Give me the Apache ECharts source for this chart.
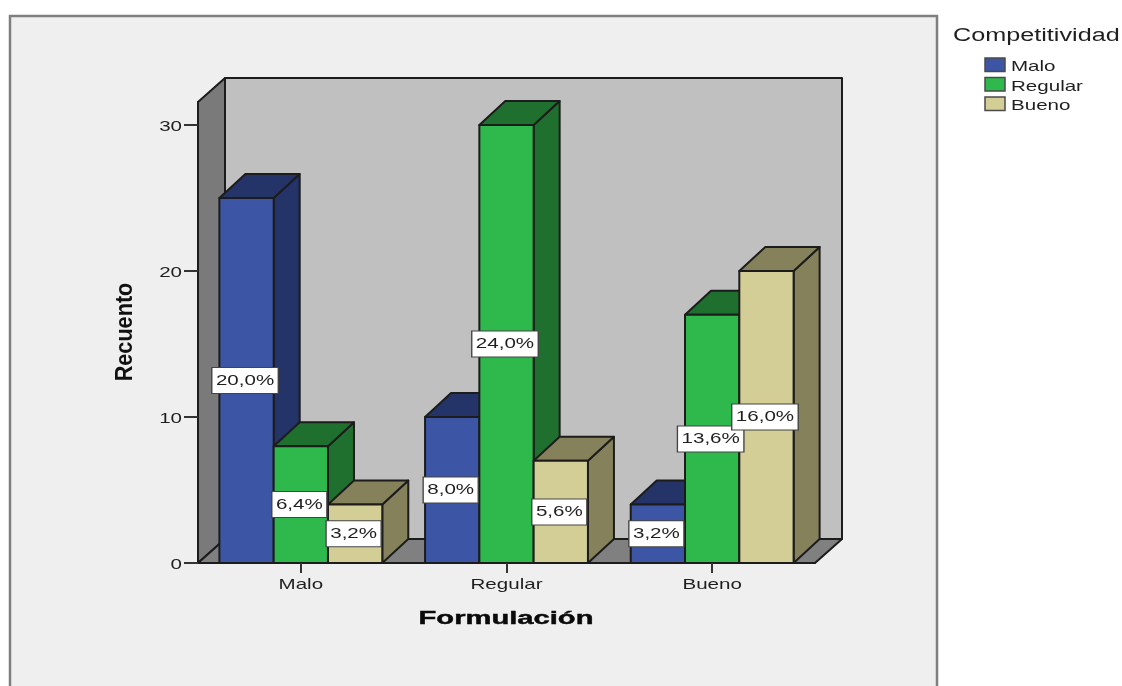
<!DOCTYPE html>
<html>
<head>
<meta charset="utf-8">
<style>html,body{margin:0;padding:0;background:#fff}#chart{width:1122px;height:686px}</style>
<script src="https://cdn.jsdelivr.net/npm/echarts@6/dist/echarts.min.js"></script>
</head>
<body>
<div id="chart"></div>
<script>
// Recuento by Formulación, split by Competitividad
const categories = ['Malo', 'Regular', 'Bueno'];
const levels = ['Malo', 'Regular', 'Bueno'];
const malo = [25, 10, 4];
const regular = [8, 30, 17];
const bueno = [4, 7, 20];
const maloPct = ['20,0%', '8,0%', '3,2%'];
const regularPct = ['6,4%', '24,0%', '13,6%'];
const buenoPct = ['3,2%', '5,6%', '16,0%'];
const yTicks = [0, 10, 20, 30];

const faces = [
  { front: '#3c55a5', shade: '#243368' },
  { front: '#2fb84c', shade: '#1f702f' },
  { front: '#d3cd96', shade: '#85815a' }
];
const stroke = '#1c1c1c';
const textColor = '#1f1f1f';
const font = 'Liberation Sans, Arial, sans-serif';
const depth = { x: 26, y: 24 };
const wallDepth = { x: 27, y: 24 };
const barShare = 0.264;
const stretch = 1.37;
const smallFont = '15px ' + font;

const chart = echarts.init(document.getElementById('chart'));

function poly(points, fill) {
  return {
    type: 'polygon',
    shape: { points },
    style: { fill, stroke, lineWidth: 2, lineJoin: 'round' }
  };
}

// One bar: front face, top and side, offset by the fixed depth
function barSeries(idx, values) {
  return {
    type: 'custom',
    name: levels[idx],
    z: 2,
    encode: { x: 0, y: 1 },
    data: values.map((v, i) => [i, v]),
    renderItem(params, api) {
      const base = api.coord([api.value(0), 0]);
      const top = api.coord([api.value(0), api.value(1)]);
      const w = api.size([1, 0])[0] * barShare;
      const x0 = base[0] + (idx - 1.5) * w;
      const x1 = x0 + w;
      const { x: dx, y: dy } = depth;
      return {
        type: 'group',
        children: [
          poly([[x1, top[1]], [x1 + dx, top[1] - dy], [x1 + dx, base[1] - dy], [x1, base[1]]], faces[idx].shade),
          poly([[x0, top[1]], [x0 + dx, top[1] - dy], [x1 + dx, top[1] - dy], [x1, top[1]]], faces[idx].shade),
          poly([[x0, top[1]], [x1, top[1]], [x1, base[1]], [x0, base[1]]], faces[idx].front)
        ]
      };
    }
  };
}

// White percentage tag centred on the bar's front face
function tagSeries(idx, values, tags) {
  return {
    type: 'custom',
    z: 4,
    encode: { x: 0, y: 1 },
    data: values.map((v, i) => [i, v]),
    renderItem(params, api) {
      const mid = api.coord([api.value(0), api.value(1) / 2]);
      const w = api.size([1, 0])[0] * barShare;
      return {
        type: 'text',
        x: mid[0] + (idx - 1) * w - 1.5,
        y: mid[1],
        scaleX: stretch,
        style: {
          text: tags[params.dataIndex],
          font: smallFont,
          fill: textColor,
          align: 'center',
          verticalAlign: 'middle',
          backgroundColor: '#ffffff',
          borderColor: '#444444',
          borderWidth: 1,
          padding: [6, 2.5, 4, 2.5],
          boxShadowColor: 'rgba(0,0,0,0.6)',
          boxShadowBlur: 1,
          boxShadowOffsetX: 1,
          boxShadowOffsetY: 1
        }
      };
    }
  };
}

const wallSeries = {
  type: 'custom',
  z: 1,
  silent: true,
  data: [[0, 0]],
  encode: { x: 0, y: 1 },
  renderItem(params) {
    const g = params.coordSys;
    const l = g.x, r = g.x + g.width, t = g.y, b = g.y + g.height;
    const { x: dx, y: dy } = wallDepth;
    return {
      type: 'group',
      children: [
        poly([[l + dx, t - dy], [r + dx, t - dy], [r + dx, b - dy], [l + dx, b - dy]], '#c0c0c0'),
        poly([[l, t], [l + dx, t - dy], [l + dx, b - dy], [l, b]], '#7a7a7a'),
        poly([[l, b], [l + dx, b - dy], [r + dx, b - dy], [r, b]], '#808080')
      ]
    };
  }
};

const xTextSeries = {
  type: 'custom',
  z: 5,
  silent: true,
  encode: { x: 0, y: 1 },
  data: categories.map((c, i) => [i, 0]),
  renderItem(params, api) {
    const p = api.coord([api.value(0), 0]);
    return {
      type: 'text', x: p[0], y: p[1] + 22, scaleX: stretch,
      style: { text: categories[params.dataIndex], font: smallFont, fill: textColor, align: 'center', verticalAlign: 'middle' }
    };
  }
};

const yTextSeries = {
  type: 'custom',
  z: 5,
  silent: true,
  encode: { x: 0, y: 1 },
  data: yTicks.map(v => [0, v]),
  renderItem(params, api) {
    const p = api.coord([0, api.value(1)]);
    const left = params.coordSys.x;
    return {
      type: 'text', x: left - 16, y: p[1] + 1.5, scaleX: stretch,
      style: { text: String(api.value(1)), font: smallFont, fill: textColor, align: 'right', verticalAlign: 'middle' }
    };
  }
};

const legendItems = levels.map((name, i) => ({
  type: 'group',
  children: [
    { type: 'rect', shape: { x: 985, y: 58 + i * 19.5, width: 20, height: 13.5 },
      style: { fill: faces[i].front, stroke: '#4a4a4a', lineWidth: 1.5 } },
    { type: 'text', x: 1011, y: 67 + i * 19.5, scaleX: stretch,
      style: { text: name, font: smallFont, fill: textColor, align: 'left', verticalAlign: 'middle' } }
  ]
}));

chart.setOption({
  animation: false,
  backgroundColor: '#ffffff',
  tooltip: { show: false },
  grid: { left: 198, top: 102, width: 617, height: 461, containLabel: false },
  xAxis: {
    type: 'category',
    data: categories,
    z: 3,
    boundaryGap: true,
    axisLine: { lineStyle: { color: stroke, width: 2 } },
    axisTick: { show: true, alignWithLabel: true, length: 10, lineStyle: { color: '#333', width: 2 } },
    axisLabel: { show: false },
    splitLine: { show: false }
  },
  yAxis: {
    type: 'value',
    min: 0,
    max: 31.58,
    z: 3,
    axisLine: { show: true, lineStyle: { color: stroke, width: 2 } },
    axisTick: { show: true, length: 14, customValues: yTicks, lineStyle: { color: '#333', width: 2 } },
    axisLabel: { show: false },
    splitLine: { show: false }
  },
  graphic: [
    { type: 'rect', z: -1, shape: { x: 10, y: 16, width: 927, height: 690 },
      style: { fill: '#efefef', stroke: '#7f7f7f', lineWidth: 2.5 } },
    { type: 'text', z: 5, x: 953, y: 36, scaleX: 1.4,
      style: { text: 'Competitividad', font: '18px ' + font, fill: textColor, align: 'left', verticalAlign: 'middle' } },
    { type: 'text', z: 5, x: 506, y: 619.5, scaleX: 1.62,
      style: { text: 'Formulación', font: 'bold 18px ' + font, fill: '#0a0a0a', stroke: '#0a0a0a', lineWidth: 0.4, align: 'center', verticalAlign: 'middle' } },
    { type: 'text', z: 5, x: 125, y: 332, rotation: Math.PI / 2, scaleX: 1.14, scaleY: 1.3,
      style: { text: 'Recuento', font: 'bold 19px ' + font, fill: '#111', align: 'center', verticalAlign: 'middle' } },
    ...legendItems
  ],
  series: [
    wallSeries,
    barSeries(0, malo),
    barSeries(1, regular),
    barSeries(2, bueno),
    tagSeries(0, malo, maloPct),
    tagSeries(1, regular, regularPct),
    tagSeries(2, bueno, buenoPct),
    xTextSeries,
    yTextSeries
  ]
});
</script>
</body>
</html>
